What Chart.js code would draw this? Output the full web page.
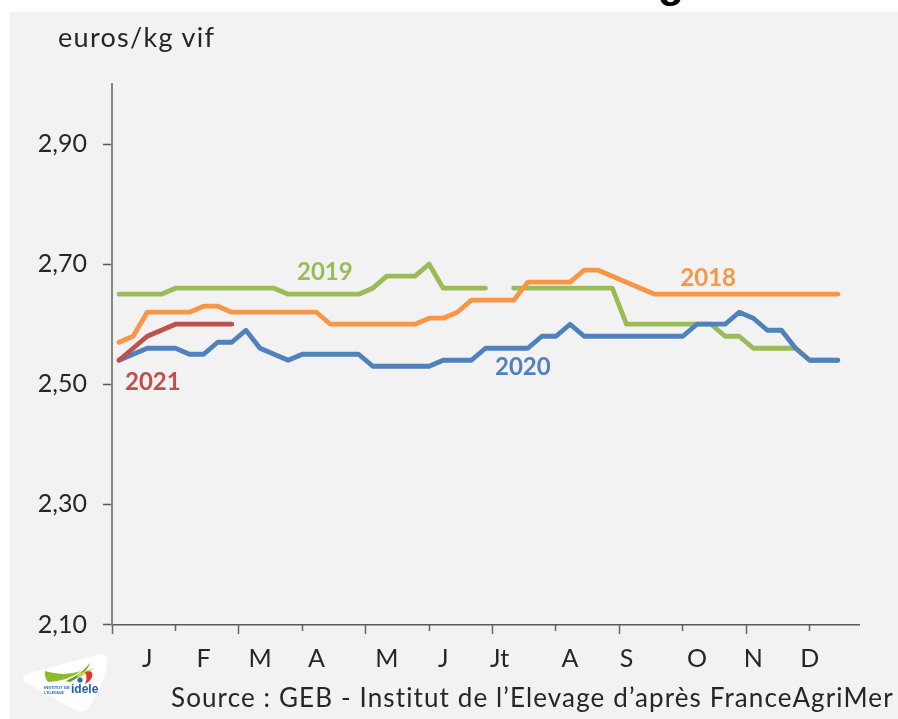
<!DOCTYPE html>
<html lang="fr"><head><meta charset="utf-8">
<style>
html,body{margin:0;padding:0;background:#fff;width:898px;height:719px;overflow:hidden}
#panel{position:absolute;left:10px;top:12px;width:888px;height:707px;background:#f2f2f2}
#wrap{position:absolute;left:0;top:0;width:898px;height:719px}
.t{position:absolute;white-space:nowrap;color:#262626;font-family:Lato,sans-serif;line-height:1}
#frag{position:absolute;left:658px;top:-38px;font:bold 42px "Liberation Sans",sans-serif;color:#000;line-height:1}
#logo{position:absolute;left:20px;top:652px}
</style></head><body>
<div id="frag">g</div>
<div id="panel"></div>
<div id="wrap"><canvas id="c" width="898" height="719"></canvas></div>
<div class="t" style="left:58px;top:23px;font-size:27px;letter-spacing:1.3px">euros/kg vif</div>
<div class="t" style="left:171px;top:684px;font-size:26px;letter-spacing:1.12px">Source : GEB - Institut de l’Elevage d’après FranceAgriMer</div>
<svg id="logo" width="92" height="64" viewBox="0 0 92 64">
<path d="M5 28 Q3 25 9 23 L78 4 Q86 2 86 9 Q84 28 70 51 Q65 61 56 57 Z" fill="#fff" stroke="#fff" stroke-width="3" stroke-linejoin="round"/>
<path d="M25 19 Q44 25 61 19 Q48 29 28 30 Q24 25 25 19Z" fill="#8dbb2c"/>
<path d="M46 29 Q62 22 71 10 Q65 23 50 30Z" fill="#5a9e2f"/>
<path d="M56 23 Q66 18 75 16 Q66 21 59 26Z" fill="#c6d84a"/>
<path d="M65 20 Q74 17 72 25 Q70 30 65 32 Q68 26 65 20Z" fill="#e2342d"/>
<circle cx="60" cy="28" r="2.6" fill="#2b6cb0"/>
<text x="24" y="37" font-family="Liberation Sans" font-size="4.2" font-weight="bold" fill="#2b6cb0">INSTITUT DE</text>
<text x="24" y="42" font-family="Liberation Sans" font-size="3.6" font-weight="bold" fill="#2b6cb0">L'ELEVAGE</text>
<text x="51" y="41" font-family="Liberation Sans" font-size="12" font-weight="bold" fill="#1f5fa8">idele</text>
</svg>
<script src="https://cdn.jsdelivr.net/npm/chart.js@4"></script>
<script>
const weekCount = 53;
const monthLabels = ['J','F','M','A','M','J','Jt','A','S','O','N','D'];
const monthLabelWeeks = [2,6,10,14,19,23,27,32,36,41,45,49];
const longTickValues = [0,9,18,27,36,45];
const shortTickValues = [4.5,13.5,22.5,31.5,40.5,49.5];
const yTickValues = [2.1,2.3,2.5,2.7,2.9];

const values2018 = [2.57,2.58,2.62,2.62,2.62,2.62,2.63,2.63,2.62,2.62,2.62,2.62,2.62,2.62,2.62,2.60,2.60,2.60,2.60,2.60,2.60,2.60,2.61,2.61,2.62,2.64,2.64,2.64,2.64,2.67,2.67,2.67,2.67,2.69,2.69,2.68,2.67,2.66,2.65,2.65,2.65,2.65,2.65,2.65,2.65,2.65,2.65,2.65,2.65,2.65,2.65,2.65];
const values2019 = [2.65,2.65,2.65,2.65,2.66,2.66,2.66,2.66,2.66,2.66,2.66,2.66,2.65,2.65,2.65,2.65,2.65,2.65,2.66,2.68,2.68,2.68,2.70,2.66,2.66,2.66,2.66,null,2.66,2.66,2.66,2.66,2.66,2.66,2.66,2.66,2.60,2.60,2.60,2.60,2.60,2.60,2.60,2.58,2.58,2.56,2.56,2.56,2.56,2.54,2.54,2.54];
const values2020 = [2.54,2.55,2.56,2.56,2.56,2.55,2.55,2.57,2.57,2.59,2.56,2.55,2.54,2.55,2.55,2.55,2.55,2.55,2.53,2.53,2.53,2.53,2.53,2.54,2.54,2.54,2.56,2.56,2.56,2.56,2.58,2.58,2.60,2.58,2.58,2.58,2.58,2.58,2.58,2.58,2.58,2.60,2.60,2.60,2.62,2.61,2.59,2.59,2.56,2.54,2.54,2.54];
const values2021 = [2.54,2.56,2.58,2.59,2.60,2.60,2.60,2.60,2.60];

const orange='#F79646', green='#9BBB59', blue='#4F81BD', red='#C0504D';
const seriesNotes = [
  {text:'2019', week:14.6, value:2.686, color:green},
  {text:'2018', week:41.8, value:2.677, color:orange},
  {text:'2020', week:28.65, value:2.529, color:blue},
  {text:'2021', week:2.4, value:2.504, color:red}
];

const weekLabels = Array.from({length:weekCount},(_,i)=>{
  const k = monthLabelWeeks.indexOf(i);
  return k>=0 ? monthLabels[k] : '';
});
const lineStyle = c => ({borderColor:c,backgroundColor:c,borderWidth:4.8,pointRadius:0,tension:0,borderCapStyle:'round',borderJoinStyle:'round',spanGaps:false,fill:false});

const notesPlugin = {
  id:'notes',
  afterDatasetsDraw(chart){
    const {ctx,scales:{x,y}} = chart;
    ctx.save();
    ctx.font='bold 24px Lato, sans-serif';
    ctx.textAlign='center';ctx.textBaseline='middle';
    seriesNotes.forEach(n=>{
      ctx.fillStyle=n.color;
      ctx.fillText(n.text,x.getPixelForValue(n.week),y.getPixelForValue(n.value));
    });
    ctx.restore();
  }
};

const tickAxis = (values,len,color) => ({
  type:'linear',min:0,max:weekCount,position:{y:2.1},
  afterBuildTicks:s=>{s.ticks=values.map(v=>({value:v}));},
  grid:{display:true,drawOnChartArea:false,drawTicks:true,tickLength:len,tickColor:color,tickWidth:1.5},
  border:{display:false},
  ticks:{display:false}
});

new Chart(document.getElementById('c'),{
  type:'line',
  data:{labels:weekLabels,datasets:[
    {label:'2021',data:values2021,...lineStyle(red),order:1},
    {label:'2020',data:values2020,...lineStyle(blue),order:2},
    {label:'2018',data:values2018,...lineStyle(orange),order:3},
    {label:'2019',data:values2019,...lineStyle(green),order:4}
  ]},
  options:{
    responsive:false,animation:false,
    layout:{padding:{left:0,right:39,top:84,bottom:0}},
    plugins:{legend:{display:false},title:{display:false},tooltip:{enabled:false}},
    scales:{
      x:{type:'category',offset:true,
        afterFit:s=>{s.height=94.5;},
        grid:{display:false,drawTicks:false},
        border:{display:true,color:'#595959',width:1.5},
        ticks:{autoSkip:false,maxRotation:0,minRotation:0,padding:19,color:'#262626',font:{family:'Lato, sans-serif',size:25}}
      },
      xLong:tickAxis(longTickValues,9,'#666666'),
      xShort:tickAxis(shortTickValues,6,'#666666'),
      y:{type:'linear',min:2.1,max:3.0,
        afterFit:s=>{s.width=112;},
        afterBuildTicks:s=>{s.ticks=yTickValues.map(v=>({value:v}));},
        grid:{display:true,drawOnChartArea:false,tickLength:9,tickColor:'#595959',tickWidth:1.5},
        border:{display:true,color:'#868686',width:2},
        ticks:{padding:16,color:'#262626',font:{family:'Lato, sans-serif',size:25},callback:v=>v.toFixed(2).replace('.',',')}
      }
    }
  },
  plugins:[notesPlugin]
});
</script>
</body></html>
